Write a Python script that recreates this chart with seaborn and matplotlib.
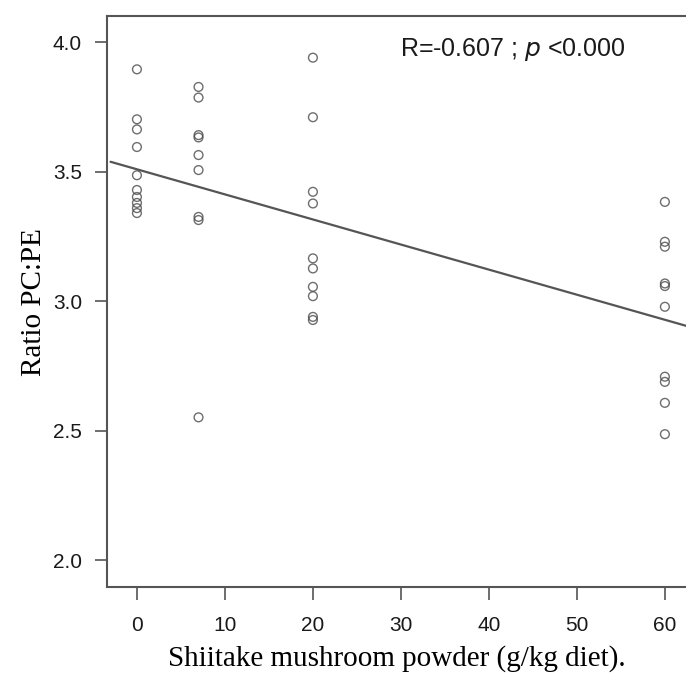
import numpy as np
import pandas as pd
import matplotlib
matplotlib.use("Agg")
import matplotlib.pyplot as plt
import seaborn as sns

# shiitake dose groups (g/kg diet) and PC:PE ratios
dose_0 = [3.895, 3.702, 3.663, 3.595, 3.486, 3.429, 3.402, 3.379, 3.359, 3.340]
dose_7 = [3.827, 3.786, 3.641, 3.632, 3.564, 3.506, 3.325, 3.313, 2.551]
dose_20 = [3.940, 3.710, 3.422, 3.377, 3.165, 3.126, 3.055, 3.019, 2.939, 2.927]
dose_60 = [3.383, 3.229, 3.210, 3.068, 3.058, 2.978, 2.708, 2.688, 2.607, 2.486]

doses = [0, 7, 20, 60]
ratios = [dose_0, dose_7, dose_20, dose_60]

x_ticks = [0, 10, 20, 30, 40, 50, 60]
y_ticks = [2.0, 2.5, 3.0, 3.5, 4.0]

df = pd.DataFrame({
    "dose": np.concatenate([[d] * len(r) for d, r in zip(doses, ratios)]),
    "ratio": np.concatenate(ratios),
})

sns.set_style("white")

fig = plt.figure(figsize=(6.86, 6.77), dpi=100)
ax = fig.add_axes([0.156, 0.133, 0.844, 0.843])

sns.regplot(
    data=df,
    x="dose",
    y="ratio",
    ci=None,
    truncate=False,
    ax=ax,
    scatter_kws=dict(
        s=40,
        facecolors="none",
        edgecolors="#4a4a4a",
        linewidths=1.0,
    ),
    line_kws=dict(color="#555555", lw=1.6),
)

ax.set_xlim(-3.4, 62.4)
ax.set_ylim(1.896, 4.1)

ax.set_xticks(x_ticks)
ax.set_xticklabels([str(t) for t in x_ticks])
ax.set_yticks(y_ticks)
ax.set_yticklabels([f"{t:.1f}" for t in y_ticks])

ax.tick_params(
    axis="both",
    direction="out",
    length=9,
    width=1.2,
    color="#555555",
    labelsize=15,
    labelcolor="#1a1a1a",
    bottom=True,
    left=True,
)
ax.tick_params(axis="x", pad=12)
ax.tick_params(axis="y", pad=9)
for lbl in ax.get_xticklabels() + ax.get_yticklabels():
    lbl.set_fontfamily("Liberation Sans")

for side in ["left", "bottom", "top"]:
    ax.spines[side].set_color("#555555")
    ax.spines[side].set_linewidth(1.5)
ax.spines["right"].set_visible(False)

ax.set_xlabel(
    "Shiitake mushroom powder (g/kg diet).",
    fontfamily="Liberation Serif",
    fontsize=21,
    color="black",
    labelpad=7,
)
ax.set_ylabel(
    "Ratio PC:PE",
    fontfamily="Liberation Serif",
    fontsize=21,
    color="black",
    labelpad=4,
)

ax.text(
    0.506, 0.965,
    r"R=-0.607 ; $\mathit{p}$ <0.000",
    transform=ax.transAxes,
    fontfamily="Liberation Sans",
    fontsize=18,
    color="#1a1a1a",
    ha="left",
    va="top",
)

plt.savefig("out.png", dpi=100)
plt.close()
